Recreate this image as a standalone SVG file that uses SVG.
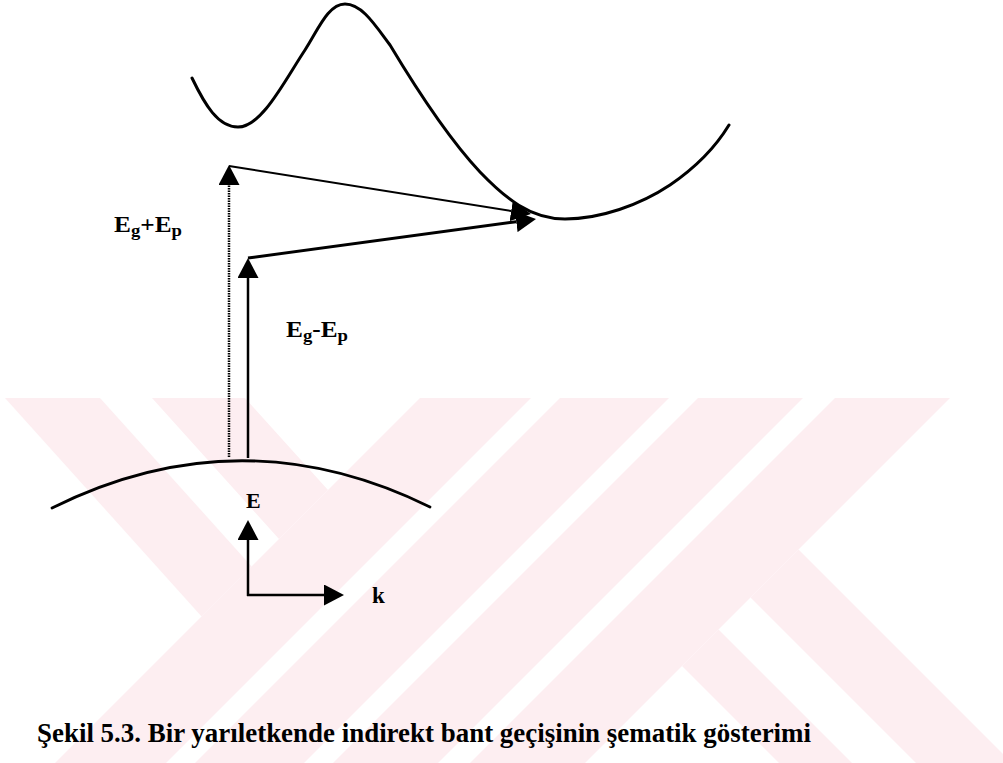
<svg xmlns="http://www.w3.org/2000/svg" width="1003" height="763" viewBox="0 0 1003 763">
<defs>
<style>
.wm{fill:#fdeef1;stroke:none}
.band{fill:none;stroke:#000;stroke-linecap:round;stroke-linejoin:round}
.lbl{font-family:"Liberation Serif","Times New Roman",serif;fill:#000}
.ln{stroke:#000;fill:none}
</style>
<marker id="ah" markerUnits="userSpaceOnUse" viewBox="0 0 20 21" markerWidth="20" markerHeight="21" refX="0" refY="10.5" orient="auto">
<path d="M0,0 L20,10.5 L0,21 z" fill="#000"/>
</marker>
</defs>
<rect width="1003" height="763" fill="#fff"/>
<g id="watermark">
<polygon class="wm" points="5,398 100,398 251.6,566.4 201.6,616.4"/>
<polygon class="wm" points="152,398 245,398 328,490 279,539"/>
<polygon class="wm" points="420,398 531,398 166,763 55,763"/>
<polygon class="wm" points="560,398 669,398 304,763 195,763"/>
<polygon class="wm" points="698,398 803,398 438,763 333,763"/>
<polygon class="wm" points="835,398 950,398 585,763 470,763"/>
<polygon class="wm" points="682,666 718.5,629.5 852,763 779,763"/>
<polygon class="wm" points="750.5,597.5 798.5,549.5 1012,763 916,763"/>
</g>
<g id="conduction-band">
<path class="band" stroke-width="3" d="M192,78 C205,105 218,127 238,127 C262,127 285,80 305,50 C318,30 328,4 345,4 C362,4 375,25 390,45 C420,95 450,140 480,172 C505,198 530,219 565,219 C600,219 640,205 670,185 C695,168 715,148 729,125"/>
</g>
<g id="valence-band">
<path class="band" stroke-width="2.8" d="M52,508 Q241,414 430,507"/>
</g>
<g id="connectors">
<line class="ln" x1="229" y1="457" x2="229" y2="185" stroke-width="2.5" stroke-dasharray="1.5 1" marker-end="url(#ah)"/>
<line class="ln" x1="248" y1="458" x2="248" y2="278" stroke-width="2.5" marker-end="url(#ah)"/>
<line class="ln" x1="229" y1="166" x2="511.2" y2="210.9" stroke-width="2" marker-end="url(#ah)"/>
<line class="ln" x1="248" y1="258" x2="516.2" y2="221.7" stroke-width="3" marker-end="url(#ah)"/>
<line class="ln" x1="248" y1="596" x2="248" y2="540" stroke-width="2.5" marker-end="url(#ah)"/>
<line class="ln" x1="247" y1="595" x2="324" y2="595" stroke-width="2.5" marker-end="url(#ah)"/>
</g>
<g id="label-eg-plus-ep">
<text class="lbl" x="114" y="232" font-size="23" font-weight="bold" textLength="68" lengthAdjust="spacingAndGlyphs">E<tspan font-size="17" dy="4">g</tspan><tspan dy="-4">+E</tspan><tspan font-size="17" dy="4">p</tspan></text>
</g>
<g id="label-eg-minus-ep">
<text class="lbl" x="286" y="337" font-size="23" font-weight="bold" textLength="62" lengthAdjust="spacingAndGlyphs">E<tspan font-size="17" dy="4">g</tspan><tspan dy="-4">-E</tspan><tspan font-size="17" dy="4">p</tspan></text>
</g>
<g id="axis-labels">
<text class="lbl" x="246" y="508" font-size="22" font-weight="bold">E</text>
<text class="lbl" x="372" y="603" font-size="23" font-weight="bold">k</text>
</g>
<g id="caption">
<text class="lbl" x="37" y="742" font-size="28" font-weight="bold" textLength="774" lengthAdjust="spacingAndGlyphs">Şekil 5.3. Bir yarıletkende indirekt bant geçişinin şematik gösterimi</text>
</g>
</svg>
